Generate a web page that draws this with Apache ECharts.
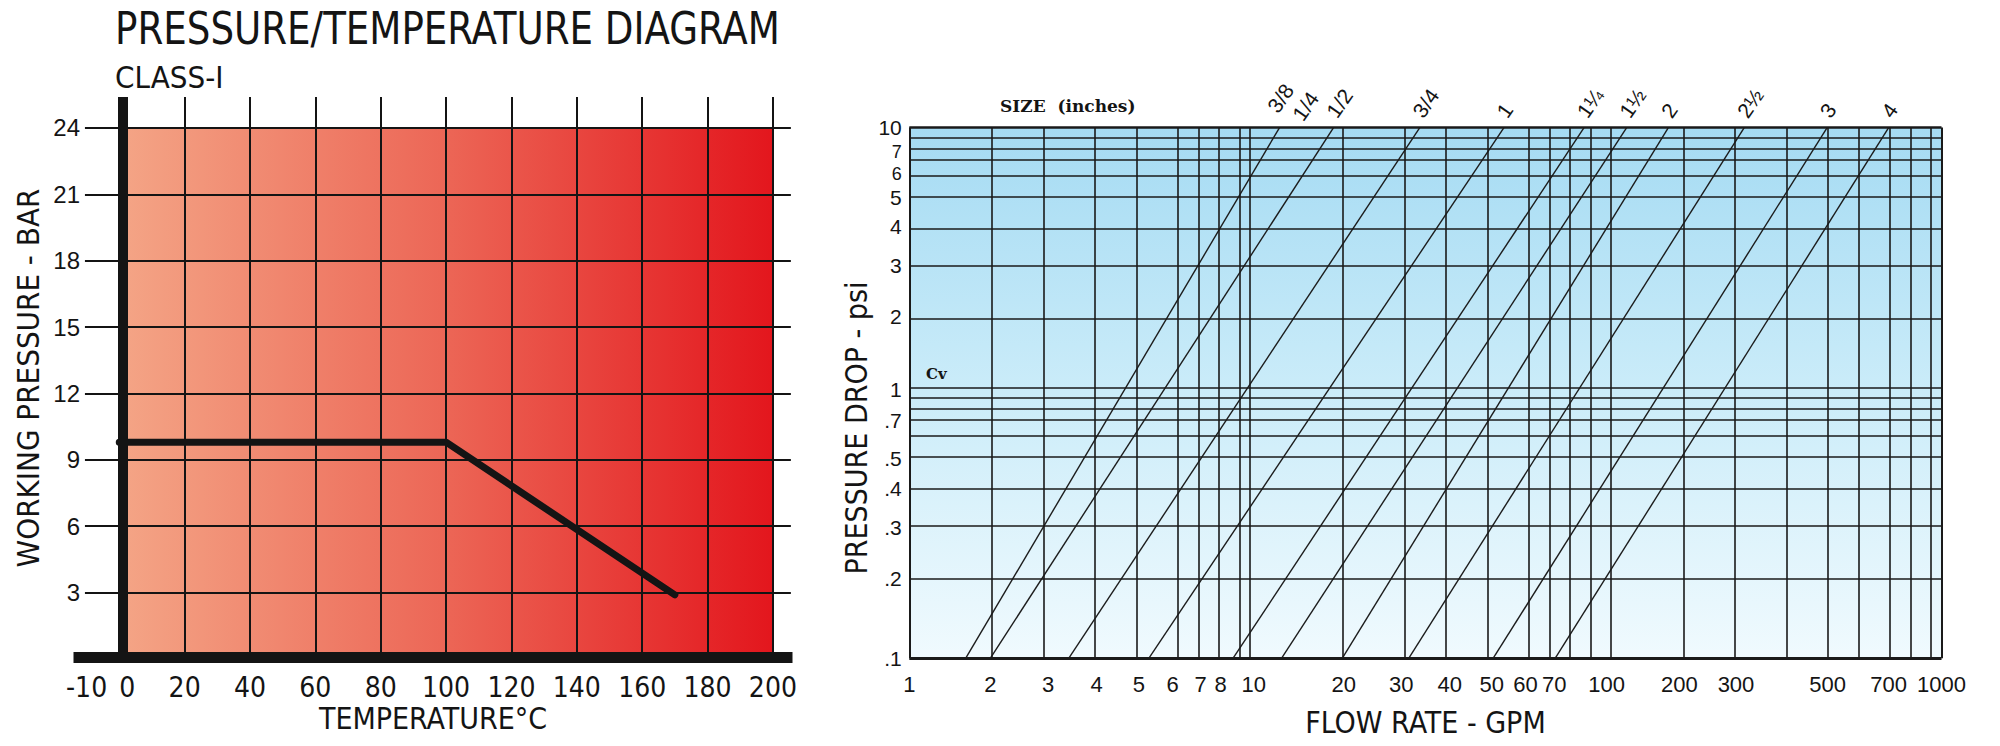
<!DOCTYPE html>
<html>
<head>
<meta charset="utf-8">
<script src="https://cdn.jsdelivr.net/npm/echarts@6.0.0/dist/echarts.min.js"></script>
<style>
html,body{margin:0;padding:0;background:#ffffff;}
#c{width:2000px;height:746px;}
</style>
</head>
<body>
<div id="c"></div>
<script>
// ================= LEFT CHART: Pressure / Temperature (Class-I) =================
const tempLabels = [-10, 0, 20, 40, 60, 80, 100, 120, 140, 160, 180, 200];
const tempGrid = [20, 40, 60, 80, 100, 120, 140, 160, 180, 200];
const pressureTicks = [3, 6, 9, 12, 15, 18, 21, 24];
const ratingTemp = [0, 100, 170];
const ratingPressure = [9.8, 9.8, 2.9];

// ================= RIGHT CHART: Flow rate vs pressure drop =================
// gridlines of the printed (non-uniform) log scales and where the sheet places them (0..1 of the axis)
const flowGrid = [1, 2, 3, 4, 5, 6, 7, 8, 9, 10, 20, 30, 40, 50, 60, 70, 80, 90, 100, 200, 300, 400, 500, 600, 700, 800, 900, 1000];
const flowScaleStops = [0, 0.0786, 0.1346, 0.1816, 0.2224, 0.2551, 0.2822, 0.3015, 0.3182, 0.3337, 0.4208, 0.4765, 0.5236, 0.5643, 0.5970, 0.6248, 0.6441, 0.6600, 0.6756, 0.7461, 0.8009, 0.8480, 0.8896, 0.9222, 0.9488, 0.9685, 0.9860, 1];
const flowLabels = [1, 2, 3, 4, 5, 6, 7, 8, 10, 20, 30, 40, 50, 60, 70, 100, 200, 300, 500, 700, 1000];
const dropGrid = [0.1, 0.2, 0.3, 0.4, 0.5, 0.6, 0.7, 0.8, 0.9, 1, 2, 3, 4, 5, 6, 7, 8, 9, 10];
const dropScaleStops = [0, 0.1502, 0.2461, 0.3189, 0.3764, 0.4161, 0.4478, 0.4721, 0.4887, 0.5058, 0.6442, 0.7394, 0.8129, 0.8690, 0.9088, 0.9418, 0.9650, 0.9815, 1];
const dropLabels = [10, 7, 6, 5, 4, 3, 2, 1, 0.7, 0.5, 0.4, 0.3, 0.2, 0.1];

const sizeNames = [['3/8', '1/4'], ['1/2'], ['3/4'], ['1'], ['1¼'], ['1½'], ['2'], ['2½'], ['3'], ['4']];
const flowAtLowDrop = [1.62, 2.0, 3.39, 5.28, 8.72, 12.4, 19.8, 31.4, 50.4, 70.5];   // GPM at 0.1 psi
const flowAtHighDrop = [12.2, 18.5, 33.5, 53.4, 85.9, 121, 180, 315, 499, 700];    // GPM at 10 psi
const lowDrop = 0.1, highDrop = 10;

// ---------- helpers ----------
function toScale(v, grid, stops) {
  const lv = Math.log10(v);
  for (let i = 0; i < grid.length - 1; i++) {
    const a = Math.log10(grid[i]), b = Math.log10(grid[i + 1]);
    if (lv <= b + 1e-12 || i === grid.length - 2) {
      const r = stops[i] + (stops[i + 1] - stops[i]) * (lv - a) / (b - a);
      return Math.min(1, Math.max(0, r));
    }
  }
}
const fx = v => toScale(v, flowGrid, flowScaleStops);
const fy = v => toScale(v, dropGrid, dropScaleStops);
function nearestValue(val, values, mapFn) {
  let best = null, bd = Infinity;
  values.forEach(v => { const d = Math.abs(mapFn(v) - val); if (d < bd) { bd = d; best = v; } });
  return bd < 1e-4 ? best : null;
}
const fmtDrop = v => v >= 1 ? String(v) : String(v).replace(/^0/, '');

const COND = "'Liberation Sans Narrow','Arial Narrow','DejaVu Sans Condensed',sans-serif";
const SANS = "'Liberation Sans',Arial,sans-serif";
const INK = '#141414';

// ---------- series ----------
const series = [];

// left background gradient
series.push({
  type: 'line', xAxisIndex: 0, yAxisIndex: 0, data: [], z: 1, silent: true, clip: false,
  markArea: {
    silent: true,
    itemStyle: {
      color: { type: 'linear', x: 0, y: 0, x2: 1, y2: 0,
        colorStops: [{ offset: 0, color: '#F4A586' }, { offset: 0.5, color: '#EC6656' }, { offset: 1, color: '#E3161D' }] }
    },
    data: [[{ coord: [ratingTemp[0], 0] }, { coord: [tempGrid[tempGrid.length - 1], pressureTicks[pressureTicks.length - 1]] }]]
  }
});

// left grid lines
const leftLines = [];
pressureTicks.forEach(p => leftLines.push([{ coord: [-10.5, p] }, { coord: [205.5, p] }]));
tempGrid.forEach(t => leftLines.push({ xAxis: t }));
series.push({
  type: 'line', xAxisIndex: 0, yAxisIndex: 0, data: [], z: 2, silent: true, clip: false,
  markLine: { silent: true, symbol: ['none', 'none'], label: { show: false },
    lineStyle: { color: INK, width: 2, type: 'solid' }, data: leftLines, animation: false }
});

// rating curve
series.push({
  type: 'line', xAxisIndex: 0, yAxisIndex: 0, z: 4, silent: true,
  data: ratingTemp.map((t, i) => [t, ratingPressure[i]]),
  symbol: 'none', lineStyle: { color: INK, width: 7, cap: 'round', join: 'round' }
});

// heavy axis bars (drawn on top)
series.push({
  type: 'line', xAxisIndex: 0, yAxisIndex: 0, data: [], z: 5, silent: true, clip: false,
  markLine: { silent: true, symbol: ['none', 'none'], label: { show: false },
    lineStyle: { color: INK, type: 'solid' },
    data: [{ xAxis: 1.1, lineStyle: { width: 10 } }, { yAxis: 0.1, lineStyle: { width: 11 } }], animation: false }
});

// right background
series.push({
  type: 'line', xAxisIndex: 1, yAxisIndex: 1, data: [], z: 1, silent: true, clip: false,
  markArea: {
    silent: true,
    itemStyle: {
      color: { type: 'linear', x: 0, y: 0, x2: 0, y2: 1,
        colorStops: [{ offset: 0, color: '#A5DBF3' }, { offset: 0.5, color: '#CBECF9' }, { offset: 1, color: '#F0FAFE' }] }
    },
    data: [[{ coord: [0, 0] }, { coord: [1, 1] }]]
  }
});

// right grid
const rightLines = [];
flowGrid.slice(1, -1).forEach(v => rightLines.push({ xAxis: fx(v) }));
dropGrid.slice(1, -1).forEach(v => rightLines.push({ yAxis: fy(v) }));
rightLines.push({ xAxis: fx(flowGrid[0]), lineStyle: { width: 2 } });
rightLines.push({ xAxis: fx(flowGrid[flowGrid.length - 1]), lineStyle: { width: 2 } });
rightLines.push({ yAxis: fy(highDrop), lineStyle: { width: 2.5 } });
rightLines.push({ yAxis: fy(lowDrop), lineStyle: { width: 3 } });
series.push({
  type: 'line', xAxisIndex: 1, yAxisIndex: 1, data: [], z: 2, silent: true, clip: false,
  markLine: { silent: true, symbol: ['none', 'none'], label: { show: false },
    lineStyle: { color: '#1a1a1a', width: 1.6, type: 'solid' }, data: rightLines, animation: false }
});

// valve size lines
sizeNames.forEach((names, k) => {
  const top = [fx(flowAtHighDrop[k]), fy(highDrop)];
  const positions = names.length === 2 ? [[-7, -17], [18, -9]] : [[-2, -12]];
  series.push({
    type: 'line', xAxisIndex: 1, yAxisIndex: 1, z: 3, silent: true, clip: false,
    name: names.join(' '),
    data: [[fx(flowAtLowDrop[k]), fy(lowDrop)], top],
    symbol: 'none',
    lineStyle: { color: '#1c1c1c', width: 1.4 },
    markPoint: {
      silent: true, symbol: 'circle', symbolSize: 1, itemStyle: { color: 'rgba(0,0,0,0)' },
      data: names.map((n, j) => ({
        coord: top, name: n,
        label: { show: true, formatter: n, position: positions[j], align: 'left', verticalAlign: 'middle',
          rotate: 55, fontFamily: SANS, fontSize: 21, color: INK }
      }))
    }
  });
});

const option = {
  animation: false,
  backgroundColor: '#ffffff',
  graphic: [
    { type: 'text', x: 115, y: 7, scaleX: 0.94, silent: true,
      style: { text: 'PRESSURE/TEMPERATURE DIAGRAM', fontFamily: COND, fontSize: 44, fill: INK, align: 'left', verticalAlign: 'top' } },
    { type: 'text', x: 115, y: 61, silent: true,
      style: { text: 'CLASS-I', fontFamily: COND, fontSize: 31, fill: INK, align: 'left', verticalAlign: 'top' } },
    { type: 'text', x: 856, y: 428, rotation: Math.PI / 2, silent: true,
      style: { text: 'PRESSURE DROP - psi', fontFamily: COND, fontSize: 30, fill: INK, align: 'center', verticalAlign: 'middle' } }
  ],
  title: [
    { text: 'SIZE  (inches)', left: 1000, top: 97, padding: 0,
      textStyle: { fontFamily: "'DejaVu Serif',serif", fontSize: 17, fontWeight: 'bold', color: INK } },
    { text: 'Cv', left: 926, top: 366, padding: 0,
      textStyle: { fontFamily: "'DejaVu Serif',serif", fontSize: 15, fontWeight: 'bold', color: INK } }
  ],
  grid: [
    { left: 73.5, top: 97, width: 719, height: 562, outerBoundsMode: 'none', containLabel: false },
    { left: 909.3, top: 127.6, width: 1032.2, height: 530.6, outerBoundsMode: 'none', containLabel: false }
  ],
  xAxis: [
    { type: 'value', gridIndex: 0, min: -14, max: 206,
      name: 'TEMPERATURE°C', nameLocation: 'middle', nameGap: 44, nameMoveOverlap: false,
      nameTextStyle: { fontFamily: COND, fontSize: 30, color: INK },
      axisLine: { show: false }, axisTick: { show: false }, splitLine: { show: false },
      axisLabel: { customValues: tempLabels, margin: 14, fontFamily: COND, fontSize: 28, color: INK,
        formatter: v => v === 0 ? '{z|0}' : String(v),
        rich: { z: { fontFamily: COND, fontSize: 28, color: INK, padding: [0, 0, 0, 16] } } } },
    { type: 'value', gridIndex: 1, min: 0, max: 1,
      name: 'FLOW RATE - GPM', nameLocation: 'middle', nameGap: 49, nameMoveOverlap: false,
      nameTextStyle: { fontFamily: COND, fontSize: 30, color: INK },
      axisLine: { show: false }, axisTick: { show: false }, splitLine: { show: false },
      axisLabel: { customValues: flowLabels.map(fx), margin: 15, fontFamily: SANS, fontSize: 22, color: INK,
        formatter: v => { const n = nearestValue(v, flowLabels, fx); return n === null ? '' : String(n); } } }
  ],
  yAxis: [
    { type: 'value', gridIndex: 0, min: 0, max: 25.4,
      name: 'WORKING PRESSURE - BAR', nameLocation: 'middle', nameGap: 30, nameRotate: 90, nameMoveOverlap: false,
      nameTextStyle: { fontFamily: COND, fontSize: 31, color: INK },
      axisLine: { show: false }, axisTick: { show: false }, splitLine: { show: false },
      axisLabel: { customValues: pressureTicks, margin: -6.5, fontFamily: SANS, fontSize: 24, color: INK } },
    { type: 'value', gridIndex: 1, min: 0, max: 1,
      axisLine: { show: false }, axisTick: { show: false }, splitLine: { show: false },
      axisLabel: { customValues: dropLabels.map(fy), margin: 7.5, fontFamily: SANS, fontSize: 21, color: INK,
        formatter: v => {
          const n = nearestValue(v, dropLabels, fy);
          if (n === null) return '';
          if (n === 7) return '{up|7}';
          if (n === 6) return '{dn|6}';
          return fmtDrop(n);
        },
        rich: {
          up: { fontFamily: SANS, fontSize: 18, color: INK, padding: [0, 0, 13, 0] },
          dn: { fontFamily: SANS, fontSize: 18, color: INK, padding: [0, 0, 3, 0] }
        } } }
  ],
  series: series
};

const chart = echarts.init(document.getElementById('c'), null, { renderer: 'svg', width: 2000, height: 746 });
chart.setOption(option);
</script>
</body>
</html>
